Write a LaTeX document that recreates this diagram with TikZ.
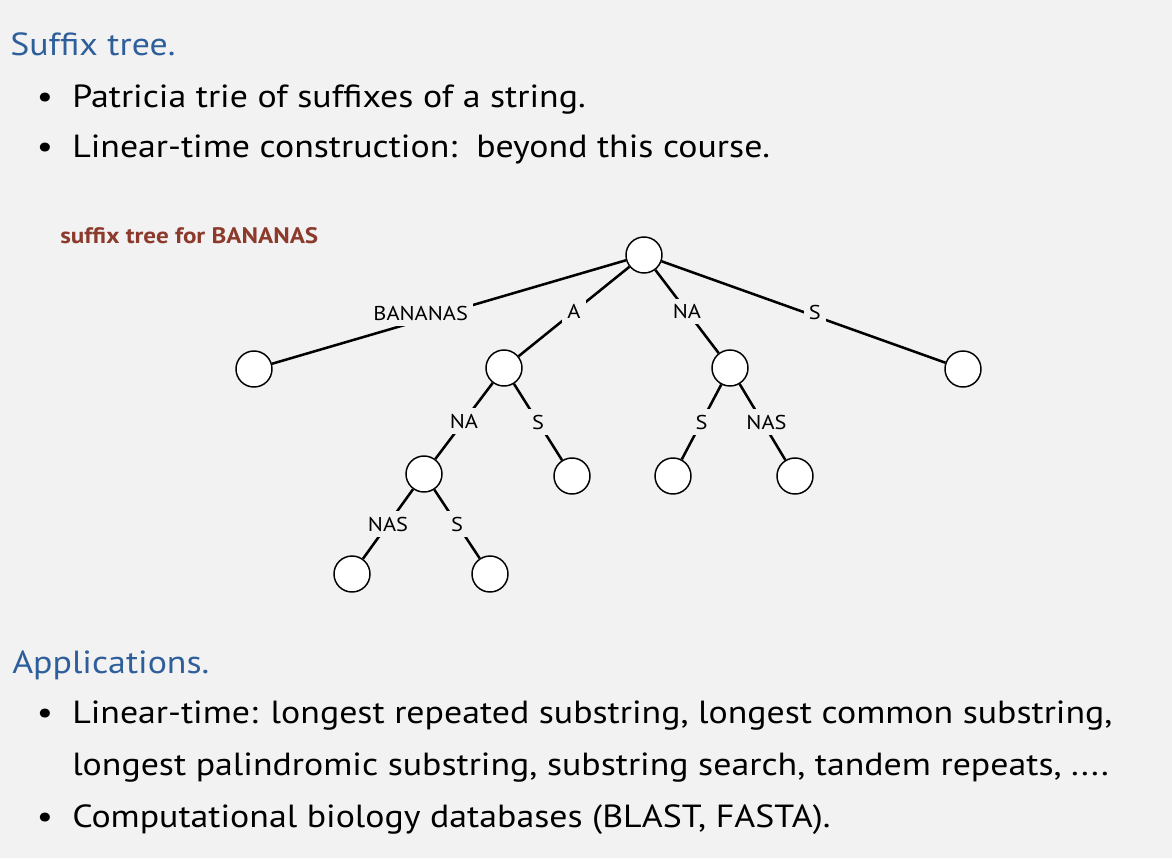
\documentclass[tikz,border=0pt]{standalone}
\usepackage{fontspec}
\setmainfont{PT Sans}[FakeStretch=1.12]
\definecolor{pagebg}{HTML}{F2F2F2}
\definecolor{headblue}{HTML}{2F5F9B}
\definecolor{capbrown}{HTML}{8C3A2C}
\begin{document}
\begin{tikzpicture}[x=0.75pt,y=-0.75pt,
  bigfont/.style={font=\fontsize{24}{28}\selectfont},
  heading/.style={bigfont, anchor=base west, inner sep=0pt, text=headblue},
  bodyline/.style={bigfont, anchor=base west, inner sep=0pt},
  bulletmark/.style={bigfont, anchor=base, inner sep=0pt},
  caption/.style={font=\bfseries\fontsize{16.8}{20}\selectfont, anchor=base west, inner sep=0pt, text=capbrown},
  tnode/.style={circle, draw=black, fill=white, line width=1.1pt, minimum size=27pt, inner sep=0pt},
  tedge/.style={line width=1.9pt},
  elabel/.style={font=\fontsize{15}{18}\selectfont, fill=pagebg, inner sep=4pt}]
\fill[pagebg] (0,0) rectangle (1172,858);
\useasboundingbox (0,0) rectangle (1172,858);

% upper text block
\node[heading] (h1) at (10,55) {Suffix tree.};
\node[bulletmark] (b1) at (45,107) {\textbullet};
\node[bodyline] (t1) at (72,107) {Patricia trie of suffixes of a string.};
\node[bulletmark] (b2) at (45,157) {\textbullet};
\node[bodyline] (t2) at (72,157) {Linear-time construction:\ \ beyond this course.};

% caption of the tree
\node[caption] (cap) at (60,243) {suffix tree for BANANAS};

% tree nodes
\node[tnode] (root) at (644,255) {};
\node[tnode] (lB)   at (254,369) {};
\node[tnode] (nA)   at (504,368) {};
\node[tnode] (nNA)  at (730,368) {};
\node[tnode] (lS)   at (963,369) {};
\node[tnode] (nANA) at (424,474) {};
\node[tnode] (lAS)  at (572,476) {};
\node[tnode] (lNAS) at (673,476) {};
\node[tnode] (lNANAS) at (795,476) {};
\node[tnode] (lANANAS) at (352,574) {};
\node[tnode] (lANAS) at (490,574) {};

% labelled edges
\draw[tedge] (root) -- node[elabel, pos=0.58, yshift=5pt] {BANANAS} (lB);
\draw[tedge] (root) -- node[elabel] {A} (nA);
\draw[tedge] (root) -- node[elabel] {NA} (nNA);
\draw[tedge] (root) -- node[elabel, pos=0.54, yshift=3pt] {S} (lS);
\draw[tedge] (nA) -- node[elabel] {NA} (nANA);
\draw[tedge] (nA) -- node[elabel] {S} (lAS);
\draw[tedge] (nNA) -- node[elabel] {S} (lNAS);
\draw[tedge] (nNA) -- node[elabel, xshift=3pt] {NAS} (lNANAS);
\draw[tedge] (nANA) -- node[elabel] {NAS} (lANANAS);
\draw[tedge] (nANA) -- node[elabel] {S} (lANAS);

% lower text block
\node[heading] (h2) at (12,673) {Applications.};
\node[bulletmark] (b3) at (45,723) {\textbullet};
\node[bodyline] (t3) at (72,723) {Linear-time: longest repeated substring, longest common substring,};
\node[bodyline] (t4) at (72,775) {longest palindromic substring, substring search, tandem repeats, ....};
\node[bulletmark] (b4) at (45,827) {\textbullet};
\node[bodyline] (t5) at (72,827) {Computational biology databases (BLAST, FASTA).};
\end{tikzpicture}
\end{document}
